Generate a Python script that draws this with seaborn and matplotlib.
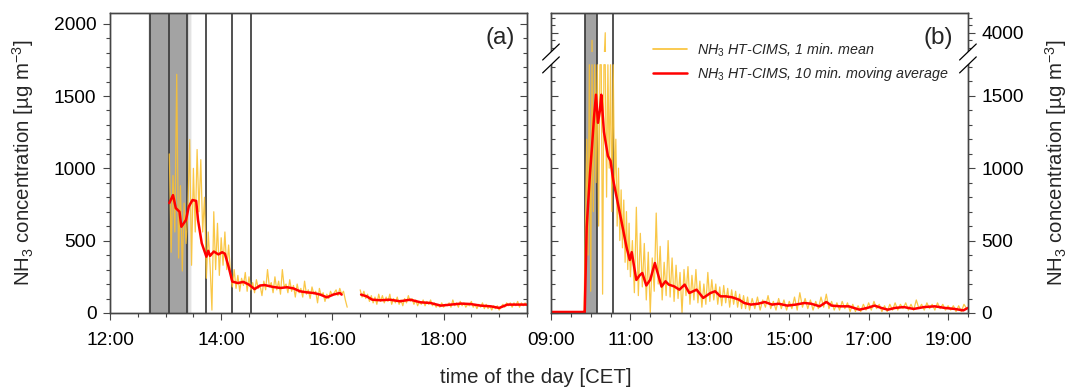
import numpy as np
import pandas as pd
import matplotlib
matplotlib.use("Agg")
import matplotlib.pyplot as plt
import seaborn as sns
from matplotlib.ticker import FixedLocator, MultipleLocator, FuncFormatter
from matplotlib.lines import Line2D
from matplotlib.patches import Rectangle, Polygon

# ------------------------------------------------------------------ data
# Panel (a): 10-min moving average (red), two segments
red_a1_time = ["13:04", "13:08", "13:11", "13:15", "13:17", "13:22", "13:25", "13:29", "13:33", "13:35",
               "13:39", "13:44", "13:46", "13:48", "13:52", "13:57", "14:01", "14:04", "14:08", "14:12",
               "14:18", "14:24", "14:30", "14:36", "14:42", "14:47", "14:56", "15:04", "15:11", "15:18",
               "15:25", "15:32", "15:40", "15:47", "15:54", "16:01", "16:08", "16:10"]
red_a1_val = [760, 815, 725, 700, 596, 643, 735, 781, 775, 643,
              483, 389, 430, 395, 425, 405, 420, 410, 320, 217,
              207, 215, 196, 165, 190, 193, 180, 173, 178, 170,
              150, 143, 138, 127, 108, 127, 138, 127]
red_a2_time = ["16:31", "16:37", "16:43", "16:52", "17:02", "17:13", "17:24", "17:35", "17:46", "17:57",
               "18:08", "18:19", "18:29", "18:40", "18:51", "19:00", "19:09", "19:20", "19:30"]
red_a2_val = [127, 115, 92, 88, 92, 81, 92, 74, 69, 51, 58, 65, 62, 51, 46, 35, 58, 58, 58]

# Panel (a): 1-min mean (yellow), sampled every 2 min
yel_a1_start, yel_a1_step = "13:04", 2
yel_a1_val = [1100, 420, 950, 560, 1650, 380, 880, 290, 760, 480,
              700, 1200, 330, 1000, 560, 1130, 700, 1060, 560, 800,
              240, 560, 330, 20, 700, 300, 620, 260, 520, 330,
              560, 300, 470, 280, 180, 300, 170, 260, 150, 240,
              190, 280, 150, 250, 160, 210, 140, 230, 170, 190,
              120, 220, 160, 300, 180, 210, 140, 250, 160, 220,
              130, 300, 180, 200, 140, 230, 150, 190, 110, 200,
              140, 170, 110, 220, 130, 160, 100, 180, 130, 150,
              70, 170, 120, 140, 80, 130, 100, 150, 120, 140,
              160, 120, 170, 130, 150, 90, 40]
yel_a2_start, yel_a2_step = "16:30", 2
yel_a2_val = [160, 110, 150, 100, 130, 80, 120, 70, 110, 60,
              130, 80, 120, 70, 110, 80, 130, 60, 100, 70,
              110, 60, 90, 50, 100, 70, 120, 80, 100, 60,
              90, 50, 80, 60, 90, 50, 80, 60, 90, 50,
              70, 40, 60, 40, 70, 40, 60, 50, 70, 40,
              90, 50, 70, 40, 80, 50, 70, 40, 60, 50,
              80, 40, 60, 30, 60, 40, 70, 30, 60, 30,
              50, 20, 50, 30, 50, 20, 40, 60, 40, 70,
              50, 70, 40, 70, 50, 80, 40, 70, 50, 70, 50]

# Panel (b): 10-min moving average (red)
red_b_time = ["09:00", "09:51", "09:54", "09:59", "10:02", "10:05", "10:08", "10:11", "10:14", "10:16",
              "10:20", "10:26", "10:30", "10:34", "10:39", "10:47", "10:54", "10:59", "11:02", "11:09",
              "11:14", "11:18", "11:24", "11:30", "11:37", "11:47", "11:53", "11:58", "12:06", "12:14",
              "12:22", "12:29", "12:40", "12:50", "13:01", "13:08", "13:16", "13:24", "13:34", "13:44",
              "13:52", "14:02", "14:13", "14:23", "14:34", "14:44", "14:57", "15:10", "15:23", "15:33",
              "15:46", "15:56", "16:04", "16:17", "16:30", "16:46", "16:58", "17:09", "17:19", "17:29",
              "17:40", "17:53", "18:08", "18:24", "18:40", "18:55", "19:10", "19:23", "19:30"]
red_b_val = [7, 7, 596, 967, 1150, 1350, 1507, 1313, 1400, 1507,
             1250, 1085, 1050, 919, 804, 621, 458, 366, 420, 228,
             260, 276, 190, 230, 345, 182, 219, 196, 184, 161,
             196, 138, 161, 104, 138, 150, 115, 115, 108, 92,
             69, 58, 64, 76, 58, 64, 51, 58, 69, 64,
             46, 76, 51, 46, 46, 23, 35, 51, 35, 23,
             35, 41, 28, 41, 46, 35, 28, 18, 35]

# Panel (b): 1-min mean (yellow) in three sampled pieces
yel_b1_start, yel_b1_step = "09:48", 2
yel_b1_val = [5, 20, 600, 1200, 400, 1720, 150, 3900, 700, 1720,
              900, 1720, 600, 1720, 2500, 130, 1720, 4000, 800, 1720,
              1000, 1720, 700, 1720, 900, 1200, 600, 1000, 500, 850,
              450, 780, 350, 700, 300, 620, 250]
yel_b2_start, yel_b2_step = "11:03", 3
yel_b2_val = [500, 140, 730, 120, 550, 180, 480, 90, 420, 0,
              380, 150, 690, 200, 460, 90, 350, 120, 500, 110,
              380, 80, 330, 100, 280, 0, 300, 120, 320, 60,
              260, 90, 300, 70, 220, 40, 200, 60, 280, 80,
              230, 90, 200, 60, 180, 50, 190, 70, 170, 40,
              160, 60, 150, 40, 130, 30, 120, 30, 110, 20]
yel_b3_start, yel_b3_step = "14:04", 4
yel_b3_val = [100, 30, 110, 20, 90, 40, 120, 30, 80, 20,
              100, 30, 90, 20, 80, 30, 110, 20, 140, 40,
              100, 30, 90, 20, 80, 30, 110, 40, 130, 30,
              80, 20, 70, 20, 80, 30, 70, 10, 60, 10,
              50, 10, 60, 20, 70, 20, 80, 30, 60, 10,
              50, 10, 60, 20, 70, 20, 60, 30, 70, 20,
              60, 20, 90, 30, 60, 20, 70, 30, 60, 20,
              70, 30, 60, 20, 50, 20, 50, 10, 50, 10,
              60, 30]

# event markers (vertical lines) and grey shaded periods
events_a = ["12:43", "13:04", "13:23", "13:44", "14:12", "14:32"]
shade_a = ("12:43", "13:23")
events_b = ["09:52", "10:10", "10:34"]
shade_b = ("09:52", "10:10")

legend_labels = [r"NH$_\mathit{3}$ HT-CIMS, 1 min. mean",
                 r"NH$_\mathit{3}$ HT-CIMS, 10 min. moving average"]
ylabel_txt = r"NH$_3$ concentration [µg m$^{-3}$]"
xlabel_txt = "time of the day [CET]"


# ------------------------------------------------------------------ helpers
def hm(s):
    h, m = s.split(":")
    return int(h) + int(m) / 60.0


def series(start, step, vals):
    t0 = hm(start)
    return [t0 + i * step / 60.0 for i in range(len(vals))]


# broken y scale for panel (b)
L_BR, G_BR, U_BR, K_BR = 1714.0, 90.0, 3750.0, 0.524
YTOP_B = 4260.0


def fwd(y):
    y = np.asarray(y, dtype=float)
    mid = L_BR + (y - L_BR) * (G_BR / (U_BR - L_BR))
    hi = L_BR + G_BR + (y - U_BR) * K_BR
    return np.where(y <= L_BR, y, np.where(y < U_BR, mid, hi))


def inv(t):
    t = np.asarray(t, dtype=float)
    mid = L_BR + (t - L_BR) * ((U_BR - L_BR) / G_BR)
    hi = U_BR + (t - L_BR - G_BR) / K_BR
    return np.where(t <= L_BR, t, np.where(t < L_BR + G_BR, mid, hi))


# ------------------------------------------------------------------ style
sns.set_style("ticks")
plt.rcParams["font.family"] = ["Liberation Sans", "DejaVu Sans"]
plt.rcParams["mathtext.fontset"] = "custom"
plt.rcParams["mathtext.rm"] = "Liberation Sans"
plt.rcParams["mathtext.it"] = "Liberation Sans:italic"
plt.rcParams["mathtext.bf"] = "Liberation Sans:bold"

YEL = "#F9C133"
RED = "#FF0000"
SPINE = "#454545"
GREY = "#A3A3A3"
VLINE = "#3C3C3C"
TICK_FS = 13.8
LAB_FS = 14.7

fig = plt.figure(figsize=(10.68, 3.89), dpi=100)
axA = fig.add_axes([0.1030, 0.1954, 0.3904, 0.7712])
axB = fig.add_axes([0.5159, 0.1954, 0.3904, 0.7712])

# ------------------------------------------------------------------ data frames
dfa_y = pd.DataFrame({
    "t": series(yel_a1_start, yel_a1_step, yel_a1_val) + series(yel_a2_start, yel_a2_step, yel_a2_val),
    "v": yel_a1_val + yel_a2_val,
    "seg": [0] * len(yel_a1_val) + [1] * len(yel_a2_val)})
dfa_r = pd.DataFrame({
    "t": [hm(s) for s in red_a1_time] + [hm(s) for s in red_a2_time],
    "v": red_a1_val + red_a2_val,
    "seg": [0] * len(red_a1_val) + [1] * len(red_a2_val)})

yb_vals = yel_b1_val + yel_b2_val + yel_b3_val
yb_t = (series(yel_b1_start, yel_b1_step, yel_b1_val) + series(yel_b2_start, yel_b2_step, yel_b2_val)
        + series(yel_b3_start, yel_b3_step, yel_b3_val))
dfb_y = pd.DataFrame({"t": yb_t, "v": yb_vals})
dfb_y["v_low"] = np.minimum(dfb_y["v"], L_BR)
dfb_r = pd.DataFrame({"t": [hm(s) for s in red_b_time], "v": red_b_val})

# ------------------------------------------------------------------ panel (a)
axA.axvspan(hm(shade_a[0]), hm(shade_a[1]), color=GREY, lw=0, zorder=0)
# soft edges of the shaded period
for i, a in enumerate([0.75, 0.5, 0.3, 0.12]):
    w = 0.022
    axA.axvspan(hm(shade_a[1]) + i * w, hm(shade_a[1]) + (i + 1) * w, color=GREY, alpha=a, lw=0, zorder=0)
for i, a in enumerate([0.5, 0.2]):
    w = 0.02
    axA.axvspan(hm(shade_a[0]) - (i + 1) * w, hm(shade_a[0]) - i * w, color=GREY, alpha=a, lw=0, zorder=0)
for e in events_a:
    axA.axvline(hm(e), color=VLINE, lw=1.25, zorder=1)

sns.lineplot(data=dfa_y, x="t", y="v", units="seg", estimator=None, color=YEL, lw=0.9,
             alpha=0.9, ax=axA, legend=False, zorder=2)
sns.lineplot(data=dfa_r, x="t", y="v", units="seg", estimator=None, color=RED, lw=1.8,
             ax=axA, legend=False, zorder=3)

axA.set_xlim(12, 19.5)
axA.set_ylim(0, 2074)
axA.yaxis.set_major_locator(FixedLocator([0, 500, 1000, 1500, 2000]))
axA.yaxis.set_minor_locator(MultipleLocator(100))

# ------------------------------------------------------------------ panel (b)
axB.set_yscale("function", functions=(fwd, inv))
axB.axvspan(hm(shade_b[0]), hm(shade_b[1]), color=GREY, lw=0, zorder=0)
for e in events_b:
    axB.axvline(hm(e), color=VLINE, lw=1.25, zorder=1)

sns.lineplot(data=dfb_y, x="t", y="v_low", estimator=None, color=YEL, lw=0.9, alpha=0.9,
             ax=axB, legend=False, zorder=2)
sns.lineplot(data=dfb_y, x="t", y="v", estimator=None, color=YEL, lw=0.9, alpha=0.9,
             ax=axB, legend=False, zorder=2)
upper_line = axB.lines[-1]
sns.lineplot(data=dfb_r, x="t", y="v", estimator=None, color=RED, lw=1.8,
             ax=axB, legend=False, zorder=3)

axB.set_xlim(9, 19.5)
axB.set_ylim(0, YTOP_B)
y_clip = float(fwd(U_BR) / fwd(YTOP_B))
upper_line.set_clip_path(Rectangle((0, y_clip), 1, 1 - y_clip, transform=axB.transAxes))

b_major = [0, 500, 1000, 1500, 4000]
b_minor = [v for v in range(100, 1800, 100) if v not in b_major] + [3800, 3900, 4100, 4200]

# ------------------------------------------------------------------ twins for mirrored y ticks
twA = axA.twinx()
twA.set_ylim(axA.get_ylim())
twA.yaxis.set_major_locator(FixedLocator([0, 500, 1000, 1500, 2000]))
twA.yaxis.set_minor_locator(MultipleLocator(100))

twB = axB.twinx()
twB.set_yscale("function", functions=(fwd, inv))
twB.set_ylim(0, YTOP_B)
for a in (axB, twB):
    a.yaxis.set_major_locator(FixedLocator(b_major))
    a.yaxis.set_minor_locator(FixedLocator(b_minor))

fmt = FuncFormatter(lambda v, p: f"{int(round(v)):02d}:00")
for ax, ticks in ((axA, [12, 14, 16, 18]), (axB, [9, 11, 13, 15, 17, 19])):
    ax.xaxis.set_major_locator(FixedLocator(ticks))
    ax.xaxis.set_minor_locator(MultipleLocator(0.5))
    ax.xaxis.set_major_formatter(fmt)
    ax.set_xlabel("")
    ax.set_ylabel("")
    ax.tick_params(axis="x", which="both", direction="out", bottom=True, top=False,
                   colors=SPINE, labelcolor="black", labelsize=TICK_FS, pad=9)
    ax.tick_params(axis="x", which="major", length=4.8, width=0.8)
    ax.tick_params(axis="x", which="minor", length=2.6, width=0.8)

for ax in (axA, axB, twA, twB):
    for s in ax.spines.values():
        s.set_color(SPINE)
        s.set_linewidth(1.0)
    ax.tick_params(axis="y", which="major", length=4.8, width=0.8, colors=SPINE,
                   labelcolor="black", labelsize=TICK_FS)
    ax.tick_params(axis="y", which="minor", length=3.0, width=0.8, colors=SPINE)

axA.tick_params(axis="y", which="both", direction="out", left=True, right=False,
                labelleft=True, pad=5)
twA.tick_params(axis="y", which="both", direction="in", left=False, right=True,
                labelright=False)
axB.tick_params(axis="y", which="both", direction="in", left=True, right=False,
                labelleft=False)
twB.tick_params(axis="y", which="both", direction="out", left=False, right=True,
                labelright=True, pad=5)

axA.set_ylabel(ylabel_txt, fontsize=LAB_FS, labelpad=13)
twB.set_ylabel(ylabel_txt, fontsize=LAB_FS, labelpad=14)
fig.text(0.502, 0.030, xlabel_txt, ha="center", va="center", fontsize=LAB_FS)

# panel letters
axA.text(0.971, 0.915, "(a)", transform=axA.transAxes, ha="right", va="center", fontsize=17.5)
axB.text(0.964, 0.915, "(b)", transform=axB.transAxes, ha="right", va="center", fontsize=17.5)

# legend
handles = [Line2D([], [], color=YEL, lw=1.2), Line2D([], [], color=RED, lw=1.8)]
axB.legend(handles, legend_labels, loc="upper left", bbox_to_anchor=(0.245, 0.905),
           frameon=False, prop={"style": "italic", "size": 10.3}, handlelength=2.4,
           handletextpad=0.65, labelspacing=0.45, borderpad=0, borderaxespad=0)

# axis-break marks on both y spines of panel (b)
dx, dy = 0.02, 0.0267
yc1, yc2 = 0.870, 0.827
for xs in (0.0, 1.0):
    gap = Polygon([(xs - dx, yc1 - dy), (xs + dx, yc1 + dy), (xs + dx, yc2 + dy), (xs - dx, yc2 - dy)],
                  closed=True, transform=twB.transAxes, facecolor="white", edgecolor="none",
                  clip_on=False, zorder=20)
    twB.add_patch(gap)
    for yc in (yc1, yc2):
        twB.plot([xs - dx, xs + dx], [yc - dy, yc + dy], transform=twB.transAxes,
                 color="black", lw=0.9, clip_on=False, zorder=21)

fig.savefig("out.png", dpi=100)
